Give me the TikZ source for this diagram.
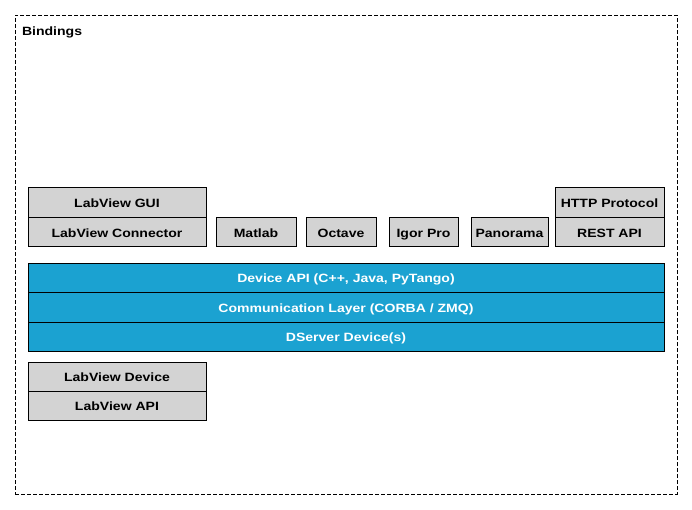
\documentclass[tikz,border=0pt]{standalone}
\usepackage{fontspec}
\setmainfont{Liberation Sans}[FakeStretch=1.17]
\definecolor{layerblue}{RGB}{27,162,209}
\definecolor{boxgray}{RGB}{211,211,211}
\begin{document}
\begin{tikzpicture}[x=1pt,y=-1pt,
  every node/.style={font=\fontsize{12}{14}\selectfont\bfseries, inner sep=0pt, outer sep=0pt},
  lbl/.style={text height=9.6pt, text depth=0pt},
  gbox/.style={lbl, draw=black, line width=1pt, fill=boxgray, text=black},
  bbox/.style={lbl, draw=black, line width=1pt, fill=layerblue, text=white},
  outerbox/.style={draw=black, line width=0.9pt, dash pattern=on 4pt off 2pt}]
\useasboundingbox (0,0) rectangle (692,510);
\node[outerbox, minimum width=662pt, minimum height=479pt] (bind) at (346,254.5) {};
\node[anchor=base west] (bindlbl) at (22,36) {Bindings};
% top row
\node[gbox, minimum width=178pt, minimum height=30pt] (lvgui) at (117,203) {LabView GUI};
\node[gbox, minimum width=178pt, minimum height=29pt] (lvconn) at (117,232.5) {LabView Connector};
\node[gbox, minimum width=80pt, minimum height=29pt] (matlab) at (256,232.5) {Matlab};
\node[gbox, minimum width=70pt, minimum height=29pt] (octave) at (341,232.5) {Octave};
\node[gbox, minimum width=69pt, minimum height=29pt] (igor) at (423.5,232.5) {Igor Pro};
\node[gbox, minimum width=77pt, minimum height=29pt] (pano) at (509.5,232.5) {Panorama};
\node[gbox, minimum width=109pt, minimum height=30pt] (http) at (609.5,203) {HTTP Protocol};
\node[gbox, minimum width=109pt, minimum height=29pt] (rest) at (609.5,232.5) {REST API};
% blue layers
\node[bbox, minimum width=636pt, minimum height=29.5pt] (devapi) at (346,277.75) {Device API (C++, Java, PyTango)};
\node[bbox, minimum width=636pt, minimum height=29.5pt] (comm) at (346,307.25) {Communication Layer (CORBA / ZMQ)};
\node[bbox, minimum width=636pt, minimum height=29.3pt] (dserver) at (346,336.65) {DServer Device(s)};
% bottom
\node[gbox, minimum width=178pt, minimum height=29.3pt] (lvdev) at (117,376.65) {LabView Device};
\node[gbox, minimum width=178pt, minimum height=29pt] (lvapi) at (117,405.8) {LabView API};
\end{tikzpicture}
\end{document}
